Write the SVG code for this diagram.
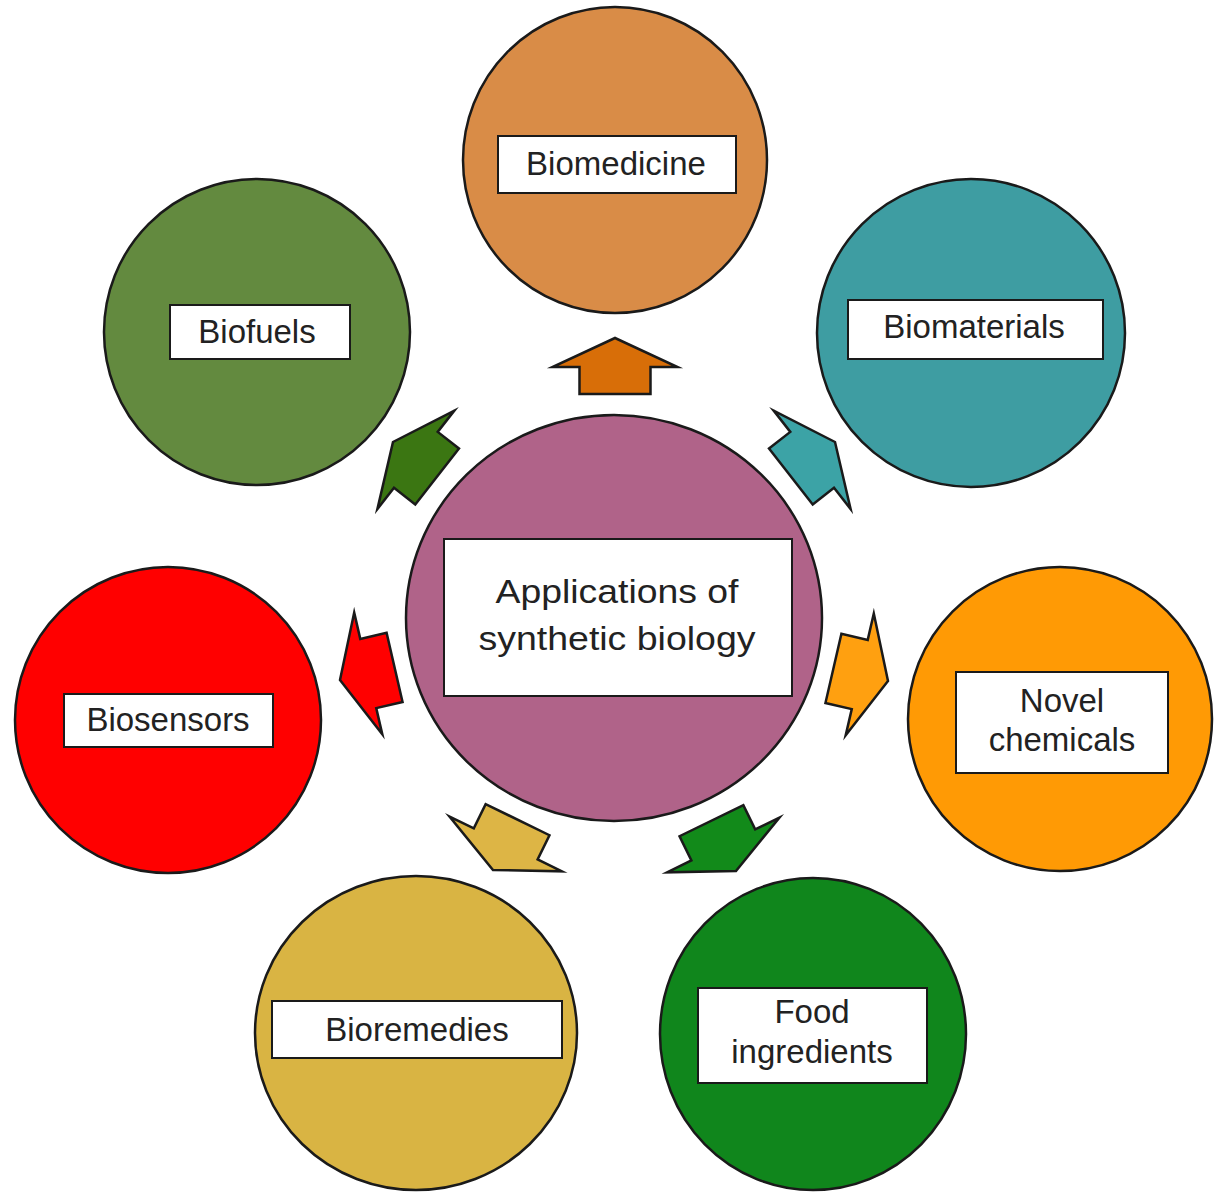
<svg xmlns="http://www.w3.org/2000/svg" xmlns:xlink="http://www.w3.org/1999/xlink" width="1217" height="1195" viewBox="0 0 1217 1195">
<style>
.c{stroke:#1a1a1a;stroke-width:2.5}
.box{fill:#ffffff;stroke:#1a1a1a;stroke-width:2}
.t{font-family:"Liberation Sans",Arial,sans-serif;font-size:33px;fill:#222222;text-anchor:middle}
.tc{font-family:"Liberation Sans",Arial,sans-serif;font-size:33px;fill:#222222;text-anchor:middle}
.a{stroke:#1a1a1a;stroke-width:2.5;stroke-linejoin:miter;stroke-miterlimit:20}
</style>
<defs>
<polygon id="arr" points="0,0 -29,-62.5 -29,-35.5 -56,-35.5 -56,35.5 -29,35.5 -29,62.5"/>
</defs>
<rect width="1217" height="1195" fill="#ffffff"/>
<g id="connectors">
<use xlink:href="#arr" class="a" fill="#D86E08" transform="translate(615,338) rotate(-90)"/>
<use xlink:href="#arr" class="a" fill="#3CA3A6" transform="translate(835,442) rotate(-38)"/>
<use xlink:href="#arr" class="a" fill="#FFA010" transform="translate(888,681) rotate(13)"/>
<use xlink:href="#arr" class="a" fill="#128A1A" transform="translate(736,871) rotate(64)"/>
<use xlink:href="#arr" class="a" fill="#DDB545" transform="translate(493,870) rotate(116)"/>
<use xlink:href="#arr" class="a" fill="#FF0000" transform="translate(340,680) rotate(167)"/>
<use xlink:href="#arr" class="a" fill="#3B7612" transform="translate(393,442) rotate(-142)"/>
</g>
<g id="center">
<ellipse class="c" cx="614" cy="618" rx="208" ry="203" fill="#B06389"/>
<rect class="box" x="444" y="539" width="348" height="157"/>
<text class="tc" x="617" y="603" textLength="243" lengthAdjust="spacingAndGlyphs">Applications of</text>
<text class="tc" x="617" y="650" textLength="277" lengthAdjust="spacingAndGlyphs">synthetic biology</text>
</g>
<g id="biomedicine">
<ellipse class="c" cx="615" cy="160" rx="152" ry="153" fill="#D98C47"/>
<rect class="box" x="498" y="136" width="238" height="57"/>
<text class="t" x="616" y="175">Biomedicine</text>
</g>
<g id="biomaterials">
<ellipse class="c" cx="971" cy="333" rx="154" ry="154" fill="#3E9DA2"/>
<rect class="box" x="848" y="300" width="255" height="59"/>
<text class="t" x="974" y="338">Biomaterials</text>
</g>
<g id="biofuels">
<ellipse class="c" cx="257" cy="332" rx="153" ry="153" fill="#638A3F"/>
<rect class="box" x="170" y="305" width="180" height="54"/>
<text class="t" x="257" y="343">Biofuels</text>
</g>
<g id="novel-chemicals">
<ellipse class="c" cx="1060" cy="719" rx="152" ry="152" fill="#FF9A05"/>
<rect class="box" x="956" y="672" width="212" height="101"/>
<text class="t" x="1062" y="712">Novel</text>
<text class="t" x="1062" y="751">chemicals</text>
</g>
<g id="biosensors">
<ellipse class="c" cx="168" cy="720" rx="153" ry="153" fill="#FF0000"/>
<rect class="box" x="64" y="694" width="209" height="53"/>
<text class="t" x="168" y="731">Biosensors</text>
</g>
<g id="bioremedies">
<ellipse class="c" cx="416" cy="1033" rx="161" ry="157" fill="#D9B443"/>
<rect class="box" x="272" y="1001" width="290" height="57"/>
<text class="t" x="417" y="1041">Bioremedies</text>
</g>
<g id="food-ingredients">
<ellipse class="c" cx="813" cy="1034" rx="153" ry="156" fill="#10861C"/>
<rect class="box" x="698" y="988" width="229" height="95"/>
<text class="t" x="812" y="1023">Food</text>
<text class="t" x="812" y="1063">ingredients</text>
</g>
</svg>
